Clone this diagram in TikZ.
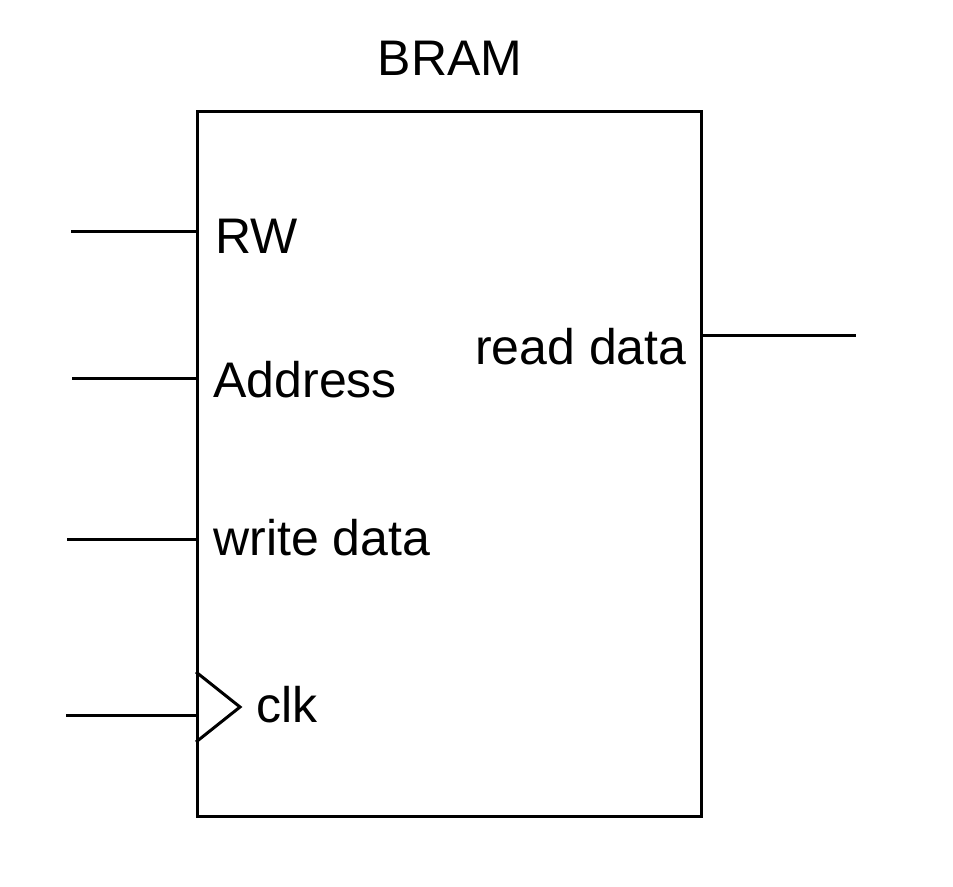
\documentclass[tikz,border=0pt]{standalone}
\usepackage{fontspec}
\setmainfont{Liberation Sans}
\begin{document}
\begin{tikzpicture}[x=0.5pt,y=-0.5pt,line width=1.5pt,
    every node/.style={font=\fontsize{25}{30}\selectfont,inner sep=0pt},
    portin/.style={anchor=base west},
    portout/.style={anchor=base east}]
  \useasboundingbox (0,0) rectangle (953,887);
  % memory block
  \node[draw,minimum width=252pt,minimum height=352.5pt,anchor=north west] (bram) at (196,110) {};
  \node[anchor=base] (title) at (450,76) {BRAM};
  % input ports
  \draw
    (214,254) node[portin] (rw){RW}
    (212,398) node[portin] (addr){Address}
    (212,555) node[portin] (wdata){write data}
    (255,722) node[portin] (clk){clk}
    (688,365) node[portout] (rdata){read data};
  \coordinate (rwin) at (71,232);
  \coordinate (addrin) at (72,379);
  \coordinate (wdatain) at (67,539);
  \coordinate (clkin) at (66,715);
  \coordinate (rdataout) at (856,336);
  \begin{scope}[-]
    \draw (rwin) -- (rwin -| bram.west);
    \draw (addrin) -- (addrin -| bram.west);
    \draw (wdatain) -- (wdatain -| bram.west);
    \draw (clkin) -- (clkin -| bram.west);
    \draw (rdataout -| bram.east) -- (rdataout);
  \end{scope}
  % clock edge marker
  \coordinate (clktop) at (196,672);
  \coordinate (clktip) at (240,707);
  \coordinate (clkbot) at (196,742);
  \draw[line join=miter] (clktop) -- (clktip) -- (clkbot);
\end{tikzpicture}
\end{document}
